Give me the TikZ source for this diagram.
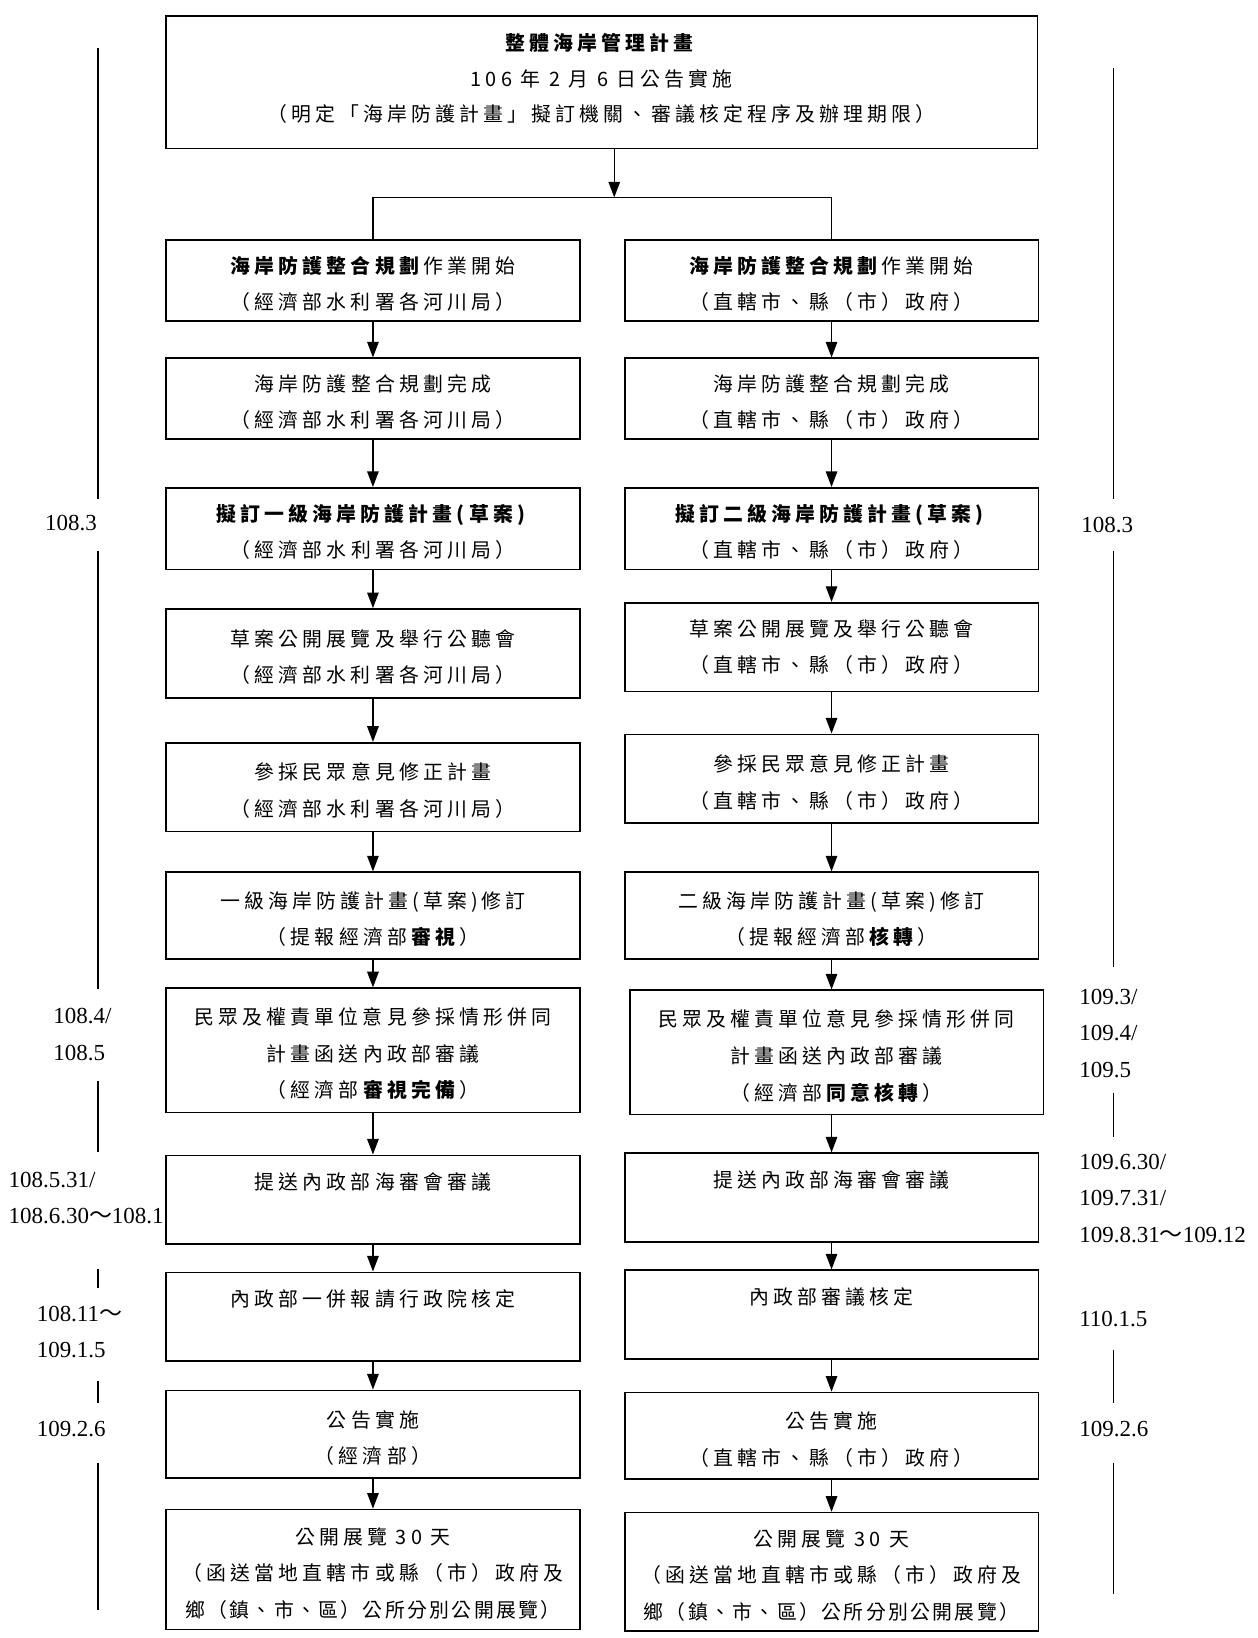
\documentclass[tikz,border=0pt]{standalone}
\usepackage{fontspec}
\setmainfont{Liberation Serif}
\newfontfamily\cjk[LetterSpace=21]{Noto Sans CJK TC}
\newfontfamily\cjkn[LetterSpace=12]{Noto Sans CJK TC}
\newfontfamily\cjkplain{Noto Sans CJK TC}
\usetikzlibrary{arrows.meta}
\tikzset{
  box/.style={draw, line width=1.6pt, inner sep=0pt, align=center, fill=white,
    font=\cjk\fontsize{19}{35}\selectfont},
  colL/.style={box, minimum width=396pt},
  arr/.style={line width=1.4pt, -{Triangle[length=15pt,width=11pt]}},
  tl/.style={line width=1.5pt},
  lab/.style={anchor=west, inner sep=0pt, align=left, font=\fontsize{22}{35}\selectfont},
}
\newcommand{\tld}{{\cjkplain ～}}
\newcommand{\dn}{\rule{0pt}{23pt}}
\begin{document}
\begin{tikzpicture}[x=1pt,y=-1pt]
\fill[white] (0,0) rectangle (1203.4,1568);
\useasboundingbox (0,0) rectangle (1203.4,1568);

% top box
\node[box, minimum width=834pt, minimum height=127pt, font=\cjk\fontsize{19}{34}\selectfont] (top) at (576,78.5)
  {\textbf{整體海岸管理計畫}\\106 年 2 月 6 日公告實施\\（明定「海岸防護計畫」擬訂機關、審議核定程序及辦理期限）\rule[-8.5pt]{0pt}{1pt}};

% left column
\node[colL, minimum height=77pt] (L1) at (357,268.5) {\dn\textbf{海岸防護整合規劃}作業開始\\（經濟部水利署各河川局）};
\node[colL, minimum height=77pt] (L2) at (357,381.5) {\dn 海岸防護整合規劃完成\\（經濟部水利署各河川局）};
\node[colL, minimum height=78pt] (L3) at (357,506) {\dn\textbf{擬訂一級海岸防護計畫(草案)}\\（經濟部水利署各河川局）};
\node[colL, minimum height=85pt] (L4) at (357,625.5) {\dn 草案公開展覽及舉行公聽會\\（經濟部水利署各河川局）};
\node[colL, minimum height=85pt] (L5) at (357,753.5) {\dn 參採民眾意見修正計畫\\（經濟部水利署各河川局）};
\node[colL, minimum height=83pt] (L6) at (357,876.5) {\dn 一級海岸防護計畫(草案)修訂\\（提報經濟部\textbf{審視}）};
\node[colL, minimum height=119pt] (L7) at (357,1005.5) {\dn 民眾及權責單位意見參採情形併同\\計畫函送內政部審議\\（經濟部\textbf{審視完備}）};
\node[colL, minimum height=85pt] (L8) at (357,1148.5) {提送內政部海審會審議\\\mbox{}};
\node[colL, minimum height=85pt] (L9) at (357,1260.5) {內政部一併報請行政院核定\\\mbox{}};
\node[colL, minimum height=84pt] (L10) at (357,1373) {\dn 公告實施\\（經濟部）};
\node[colL, minimum height=115pt] (L11) at (357,1502.5) {\dn 公開展覽 30 天\\（函送當地直轄市或縣（市）政府及\\{\cjkn 鄉（鎮、市、區）公所分別公開展覽）}};

% right column
\node[colL, minimum height=77pt] (R1) at (796,268.5) {\dn\textbf{海岸防護整合規劃}作業開始\\（直轄市、縣（市）政府）};
\node[colL, minimum height=77pt] (R2) at (796,381.5) {\dn 海岸防護整合規劃完成\\（直轄市、縣（市）政府）};
\node[colL, minimum height=78pt] (R3) at (796,506) {\dn\textbf{擬訂二級海岸防護計畫(草案)}\\（直轄市、縣（市）政府）};
\node[colL, minimum height=85pt] (R4) at (796,619.5) {草案公開展覽及舉行公聽會\\（直轄市、縣（市）政府）};
\node[colL, minimum height=85pt] (R5) at (796,745.5) {\dn 參採民眾意見修正計畫\\（直轄市、縣（市）政府）};
\node[colL, minimum height=83pt] (R6) at (796,876.5) {\dn 二級海岸防護計畫(草案)修訂\\（提報經濟部\textbf{核轉}）};
\node[colL, minimum height=119pt] (R7) at (801,1007.5) {\dn 民眾及權責單位意見參採情形併同\\計畫函送內政部審議\\（經濟部\textbf{同意核轉}）};
\node[colL, minimum height=85pt] (R8) at (796,1146.5) {提送內政部海審會審議\\\mbox{}};
\node[colL, minimum height=85pt] (R9) at (796,1258.5) {內政部審議核定\\\mbox{}};
\node[colL, minimum height=83pt] (R10) at (796,1374.5) {\dn 公告實施\\（直轄市、縣（市）政府）};
\node[colL, minimum height=113pt] (R11) at (796,1504.5) {\dn 公開展覽 30 天\\（函送當地直轄市或縣（市）政府及\\{\cjkn 鄉（鎮、市、區）公所分別公開展覽）}};

% split
\coordinate (split) at (588,189);
\draw[arr] (top.south -| split) -- (split);
\draw[line width=1.6pt] (L1.north) -- (L1.north |- split) -- (R1.north |- split) -- (R1.north);

% arrows left
\foreach \a/\b in {L1/L2,L2/L3,L3/L4,L4/L5,L5/L6,L6/L7,L7/L8,L8/L9,L9/L10,L10/L11}
  \draw[arr] (\a.south) -- (\b.north);
% arrows right
\foreach \a/\b in {R1/R2,R2/R3,R3/R4,R4/R5,R5/R6,R8/R9,R9/R10,R10/R11}
  \draw[arr] (\a.south) -- (\b.north);
\draw[arr] (R6.south) -- (R6.south |- R7.north);
\draw[arr] (R8.north |- R7.south) -- (R8.north);

% left timeline labels
\node[lab] (l1) at (43,501) {108.3};
\node[lab] (l2) at (51,990.5) {108.4/\\108.5};
\node[lab] (l3) at (8,1147) {108.5.31/\\108.6.30\tld108.1};
\node[lab] (l4) at (35,1275) {108.11\tld\\109.1.5};
\node[lab] (l5) at (35,1368) {109.2.6};
\draw[tl] (94,46) -- (94,478);
\draw[tl] (94,527) -- (94,947);
\draw[tl] (94,1035) -- (94,1103);
\draw[tl] (94,1215) -- (94,1233);
\draw[tl] (94,1322) -- (94,1343);
\draw[tl] (94,1400) -- (94,1541);

% right timeline labels
\node[lab] (r1) at (1035,503) {108.3};
\node[lab] (r2) at (1033,989) {109.3/\\109.4/\\109.5};
\node[lab] (r3) at (1033,1147) {109.6.30/\\109.7.31/\\109.8.31\tld109.12};
\node[lab] (r4) at (1033,1263) {110.1.5};
\node[lab] (r5) at (1033,1368) {109.2.6};
\draw[tl] (1066,65) -- (1066,478);
\draw[tl] (1066,527) -- (1066,926);
\draw[tl] (1066,1046) -- (1066,1088);
\draw[tl] (1066,1292) -- (1066,1343);
\draw[tl] (1066,1400) -- (1066,1526);
\end{tikzpicture}
\end{document}
